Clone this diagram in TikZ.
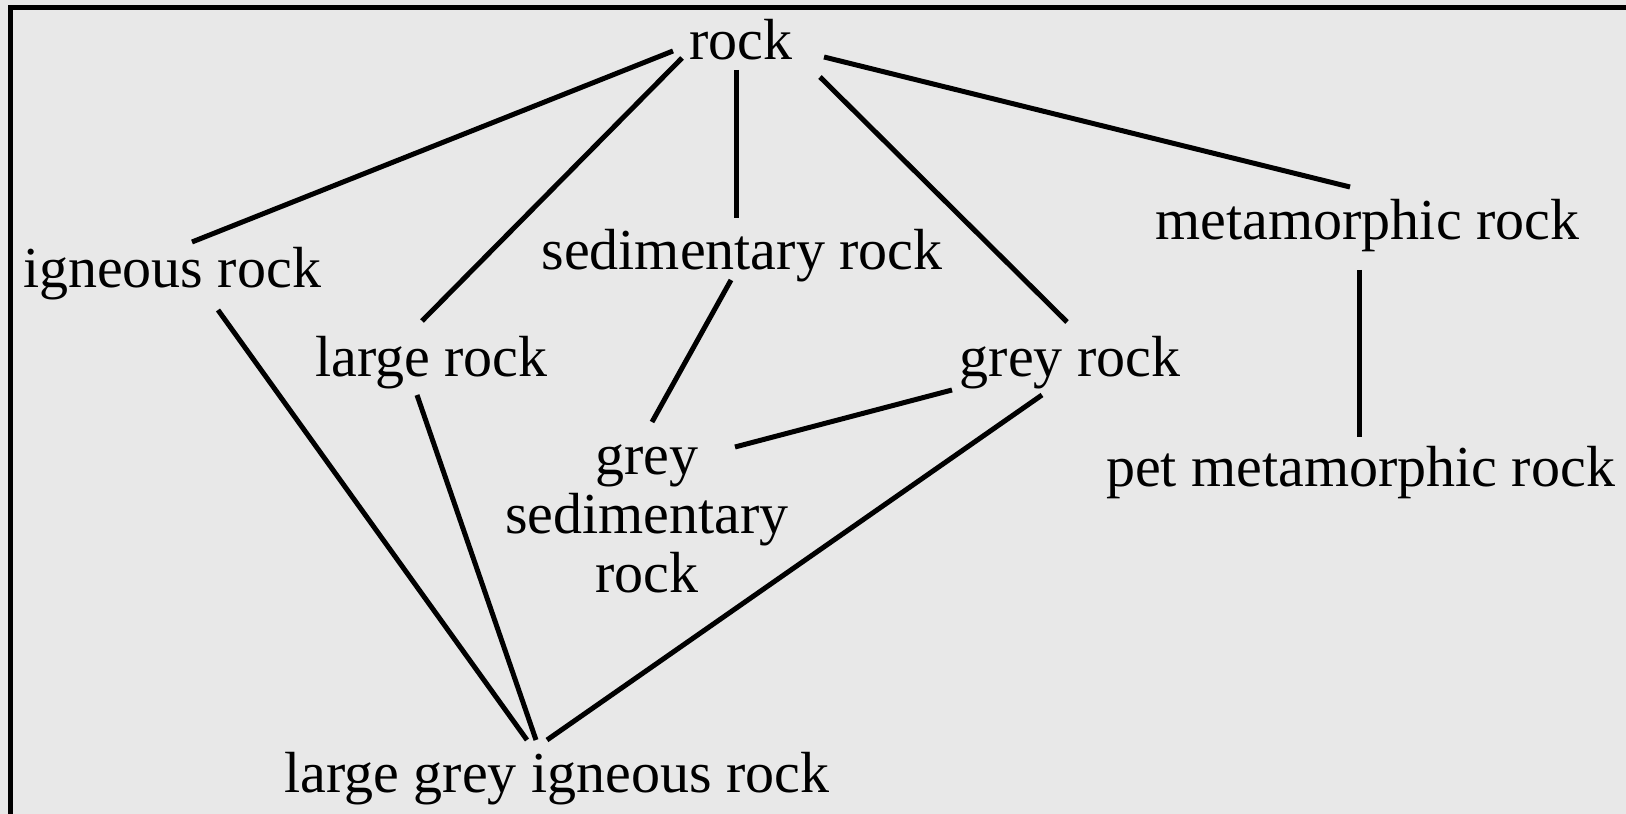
\documentclass[tikz,border=0pt]{standalone}
\usepackage{fontspec}
\setmainfont{Liberation Serif}
\definecolor{bggrey}{RGB}{232,232,232}
\tikzset{
  lbl/.style={anchor=base, inner sep=0pt, align=center, font=\fontsize{58}{59}\selectfont},
  link/.style={line width=5pt}
}
\begin{document}
\begin{tikzpicture}[x=1pt, y=1pt]
      \useasboundingbox (0,0) rectangle (1626,814);
      \fill[bggrey] (0,0) rectangle (1626,814);
      \draw[line width=5pt] (10,0) -- (10,806) -- (1626,806);
      \draw
        (741,754) node[lbl] (rock){rock}
        (172,526) node[lbl] (igneous){igneous rock}
        (742,544) node[lbl] (sed){sedimentary rock}
        (1367.5,574) node[lbl] (meta){metamorphic rock}
        (431.5,437) node[lbl] (large){large rock}
        (1070,437) node[lbl] (grey){grey rock}
        (647,221) node[lbl] (greysed){grey\\sedimentary\\rock}
        (1360.5,327) node[lbl] (pet){pet metamorphic rock}
        (557,21) node[lbl] (lgi){large grey igneous rock};
      \begin{scope}[link]
        \draw ([shift={(-68,9)}]rock.base) to ([shift={(20,46)}]igneous.base);
        \draw ([shift={(-59,2)}]rock.base) to ([shift={(-9.5,56)}]large.base);
        \draw ([shift={(-5,-10)}]rock.base) to ([shift={(-6,52)}]sed.base);
        \draw ([shift={(79,-17)}]rock.base) to ([shift={(-3,55)}]grey.base);
        \draw ([shift={(83,3)}]rock.base) to ([shift={(-17.5,53)}]meta.base);
        \draw ([shift={(-11,-10)}]sed.base) to ([shift={(5,171)}]greysed.base);
        \draw ([shift={(-118,-13)}]grey.base) to ([shift={(88,146)}]greysed.base);
        \draw ([shift={(-8.5,-30)}]meta.base) to ([shift={(-1.5,50)}]pet.base);
        \draw ([shift={(46,-22)}]igneous.base) to ([shift={(-30,53)}]lgi.base);
        \draw ([shift={(-14.5,-18)}]large.base) to ([shift={(-21,53)}]lgi.base);
        \draw ([shift={(-28,-18)}]grey.base) to ([shift={(-10,53)}]lgi.base);
      \end{scope}
    \end{tikzpicture}
\end{document}
